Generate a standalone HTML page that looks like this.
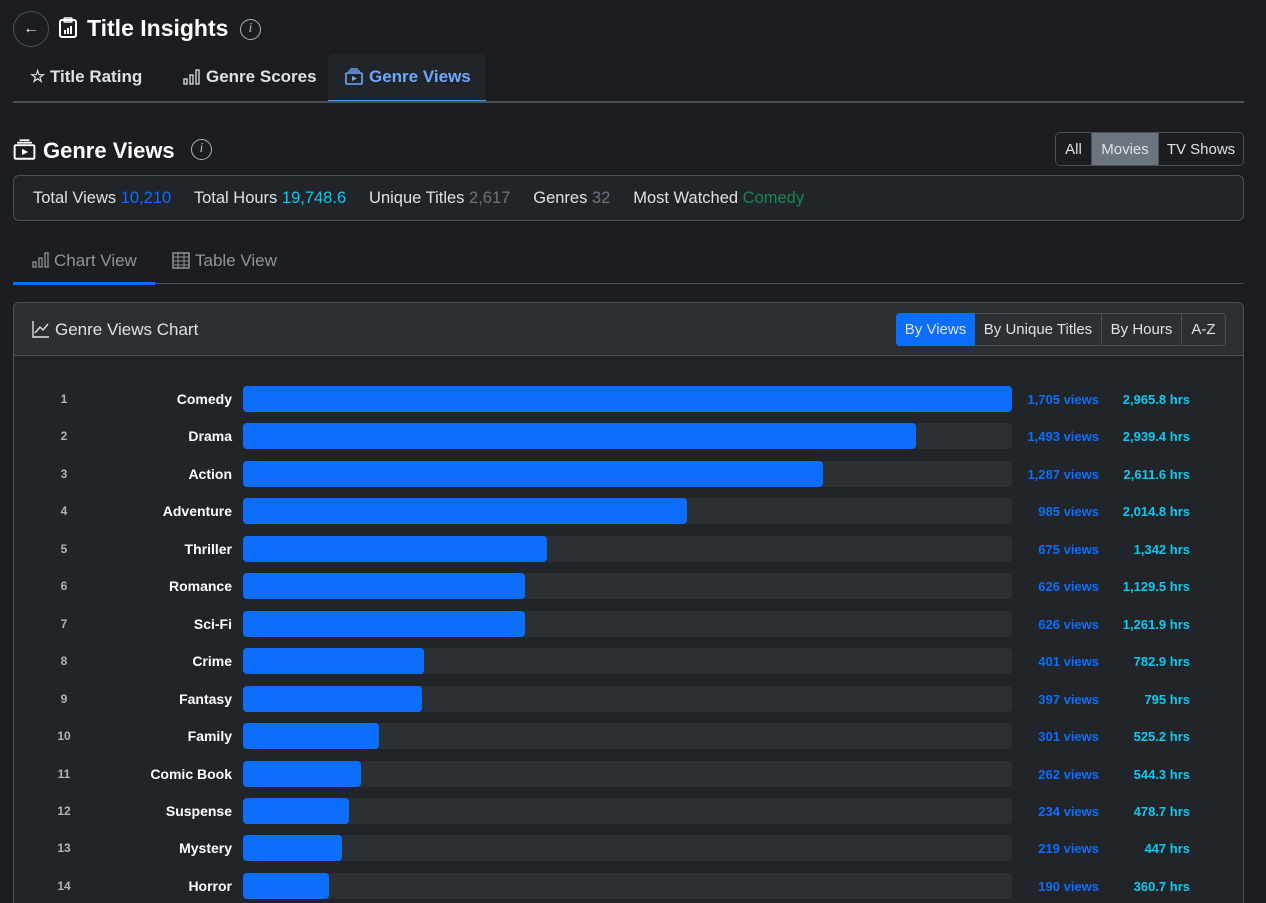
<!DOCTYPE html>
<html><head><meta charset="utf-8"><style>
*{box-sizing:border-box;margin:0;padding:0}
html,body{width:1266px;height:903px;overflow:hidden}
body{background:#1b1d21;font-family:"Liberation Sans",sans-serif;color:#dee2e6;position:relative}
.abs{position:absolute}
.btn{border:1px solid #495057;display:flex;align-items:center;justify-content:center;font-size:15px;color:#dee2e6}
</style></head><body>
<div class="abs" style="left:13px;top:11px;width:36px;height:36px;border:1px solid #495057;border-radius:50%;display:flex;align-items:center;justify-content:center;font-size:16px">←</div>
<svg class="abs" style="left:58px;top:17px" width="20" height="22" viewBox="0 0 20 22"><rect x="2" y="3" width="16" height="17" rx="2" fill="none" stroke="#fff" stroke-width="2"/><rect x="6" y="1" width="8" height="4" rx="1" fill="none" stroke="#fff" stroke-width="1.5"/><rect x="6" y="13" width="2" height="4" fill="#fff"/><rect x="9" y="11" width="2" height="6" fill="#fff"/><rect x="12" y="9" width="2" height="8" fill="#fff"/></svg>
<div class="abs" style="left:87px;top:15px;font-size:23px;font-weight:bold;color:#fff">Title Insights</div>
<div class="abs" style="left:240px;top:19px;width:21px;height:21px;border:1.5px solid #adb5bd;border-radius:50%;font-size:14px;font-style:italic;text-align:center;line-height:18px;color:#adb5bd;font-family:'Liberation Serif',serif">i</div>

<div class="abs" style="left:30px;top:67px;font-size:17px;font-weight:bold;color:#dee2e6">☆ Title Rating</div>
<svg class="abs" style="left:183px;top:69px" width="17" height="16"><rect x="1" y="10" width="3" height="5" fill="none" stroke="#dee2e6" stroke-width="1.3"/><rect x="7" y="6" width="3" height="9" fill="none" stroke="#dee2e6" stroke-width="1.3"/><rect x="13" y="1" width="3" height="14" fill="none" stroke="#dee2e6" stroke-width="1.3"/></svg>
<div class="abs" style="left:206px;top:67px;font-size:17px;font-weight:bold">Genre Scores</div>
<div class="abs" style="left:328px;top:54px;width:158px;height:48px;background:#212529;border-radius:6px 6px 0 0;border-bottom:2px solid #4d94ff"></div>
<svg class="abs" style="left:345px;top:68px" width="18" height="17" viewBox="0 0 18 17"><rect x="1" y="5" width="16" height="11" rx="1" fill="none" stroke="#6ea8fe" stroke-width="1.6"/><line x1="3" y1="3" x2="15" y2="3" stroke="#6ea8fe" stroke-width="1.4"/><line x1="5" y1="1" x2="13" y2="1" stroke="#6ea8fe" stroke-width="1.4"/><path d="M7 8 L12 10.5 L7 13Z" fill="#6ea8fe"/></svg>
<div class="abs" style="left:369px;top:67px;font-size:17px;font-weight:bold;color:#6ea8fe">Genre Views</div>
<div class="abs" style="left:13px;top:101px;width:1231px;height:2px;background:#495057"></div>

<svg class="abs" style="left:13px;top:139px" width="23" height="21" viewBox="0 0 18 17"><rect x="1" y="5" width="16" height="11" rx="1" fill="none" stroke="#fff" stroke-width="1.6"/><line x1="3" y1="3" x2="15" y2="3" stroke="#fff" stroke-width="1.4"/><line x1="5" y1="1" x2="13" y2="1" stroke="#fff" stroke-width="1.4"/><path d="M7 8 L12 10.5 L7 13Z" fill="#fff"/></svg>
<div class="abs" style="left:43px;top:138px;font-size:22px;font-weight:bold;color:#fff">Genre Views</div>
<div class="abs" style="left:191px;top:139px;width:21px;height:21px;border:1.5px solid #adb5bd;border-radius:50%;font-size:14px;font-style:italic;text-align:center;line-height:18px;color:#adb5bd;font-family:'Liberation Serif',serif">i</div>
<div class="abs" style="left:1055px;top:132px;height:34px;display:flex;border-radius:5px;overflow:hidden">
<div class="btn" style="width:37px;border-radius:5px 0 0 5px">All</div><div class="btn" style="width:67px;background:#6c757d;border-left:0">Movies</div><div class="btn" style="width:85px;border-left:0;border-radius:0 5px 5px 0">TV Shows</div></div>

<div class="abs" style="left:13px;top:175px;width:1231px;height:46px;background:#212529;border:1px solid #495057;border-radius:6px;font-size:16.5px;padding:13px 0 0 19px;white-space:pre">Total Views <span style="color:#0d6efd">10,210</span>     Total Hours <span style="color:#0dcaf0">19,748.6</span>     Unique Titles <span style="color:#6c757d">2,617</span>     Genres <span style="color:#6c757d">32</span>     Most Watched <span style="color:#198754">Comedy</span></div>

<svg class="abs" style="left:32px;top:252px" width="17" height="16"><rect x="1" y="10" width="3" height="5" fill="none" stroke="#8e959c" stroke-width="1.3"/><rect x="7" y="6" width="3" height="9" fill="none" stroke="#8e959c" stroke-width="1.3"/><rect x="13" y="1" width="3" height="14" fill="none" stroke="#8e959c" stroke-width="1.3"/></svg>
<div class="abs" style="left:54px;top:251px;font-size:17px;color:#8e959c">Chart View</div>
<svg class="abs" style="left:172px;top:252px" width="18" height="17"><rect x="1" y="1" width="16" height="15" fill="none" stroke="#8e959c" stroke-width="1.5"/><path d="M1 5H17M1 9H17M1 13H17M6 1V16M12 1V16" stroke="#8e959c" stroke-width="1"/></svg>
<div class="abs" style="left:195px;top:251px;font-size:17px;color:#8e959c">Table View</div>
<div class="abs" style="left:13px;top:283px;width:1231px;height:1px;background:#495057"></div>
<div class="abs" style="left:13px;top:282px;width:142px;height:3px;background:#0d6efd"></div>

<div class="abs" style="left:13px;top:302px;width:1231px;height:640px;background:#212529;border:1px solid #495057;border-radius:6px;overflow:hidden">
<div style="height:53px;background:#2b3035;border-bottom:1px solid #495057"></div></div>
<svg class="abs" style="left:32px;top:320px" width="18" height="18"><path d="M1 1V17H17" fill="none" stroke="#dee2e6" stroke-width="1.4"/><path d="M3 13L8 7L11 10L16 4" fill="none" stroke="#dee2e6" stroke-width="1.4"/></svg>
<div class="abs" style="left:55px;top:320px;font-size:17px;color:#dee2e6">Genre Views Chart</div>
<div class="abs" style="left:896px;top:313px;height:33px;display:flex">
<div class="btn" style="width:79px;background:#0d6efd;border-color:#0d6efd;border-radius:4px 0 0 4px">By Views</div><div class="btn" style="width:127px;border-left:0">By Unique Titles</div><div class="btn" style="width:80px;border-left:0">By Hours</div><div class="btn" style="width:44px;border-left:0;border-radius:0 4px 4px 0">A-Z</div></div>

<div id="rows"></div>
<script>
var d=[["Comedy",1705,"2,965.8"],["Drama",1493,"2,939.4"],["Action",1287,"2,611.6"],["Adventure",985,"2,014.8"],["Thriller",675,"1,342"],["Romance",626,"1,129.5"],["Sci-Fi",626,"1,261.9"],["Crime",401,"782.9"],["Fantasy",397,"795"],["Family",301,"525.2"],["Comic Book",262,"544.3"],["Suspense",234,"478.7"],["Mystery",219,"447"],["Horror",190,"360.7"]];
var h="";
d.forEach(function(r,i){var y=386+i*37.45;var w=Math.round(r[1]/1705*769);
var v=r[1].toLocaleString("en-US");
h+='<div class="abs" style="left:44px;top:'+(y+6)+'px;width:40px;text-align:center;font-size:12px;font-weight:bold;color:#adb5bd">'+(i+1)+'</div>'+
'<div class="abs" style="left:80px;top:'+(y+5)+'px;width:152px;text-align:right;font-size:14px;font-weight:bold;color:#fff">'+r[0]+'</div>'+
'<div class="abs" style="left:243px;top:'+y+'px;width:769px;height:26px;background:#2b3035;border-radius:4px"></div>'+
'<div class="abs" style="left:243px;top:'+y+'px;width:'+w+'px;height:26px;background:#0d6efd;border-radius:4px"></div>'+
'<div class="abs" style="left:1000px;top:'+(y+6)+'px;width:99px;text-align:right;font-size:13px;font-weight:bold;color:#0d6efd">'+v+' views</div>'+
'<div class="abs" style="left:1100px;top:'+(y+6)+'px;width:90px;text-align:right;font-size:13px;font-weight:bold;color:#0dcaf0">'+r[2]+' hrs</div>';});
document.getElementById("rows").innerHTML=h;
</script>
</body></html>
